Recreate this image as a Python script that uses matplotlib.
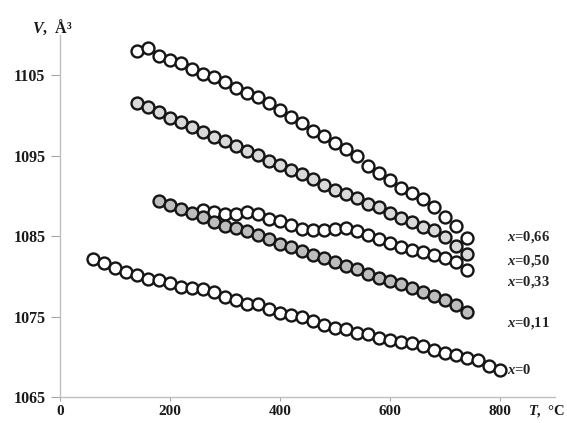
import matplotlib
matplotlib.use("Agg")
import matplotlib.pyplot as plt
import numpy as np

plt.rcParams['font.family'] = ['Liberation Serif', 'DejaVu Serif']
plt.rcParams['font.weight'] = 'bold'
plt.rcParams['mathtext.fontset'] = 'custom'
plt.rcParams['mathtext.it'] = 'Liberation Serif:italic:bold'
plt.rcParams['mathtext.rm'] = 'Liberation Serif:bold'
plt.rcParams['mathtext.bf'] = 'Liberation Serif:bold'

# Temperatures, degrees C
T_x0 = list(range(60, 801, 20))
T_x066 = list(range(140, 741, 20))
T_x050 = list(range(140, 741, 20))
T_x033 = list(range(260, 741, 20))
T_x011 = list(range(180, 741, 20))

# Unit-cell volume, cubic angstrom
V_x0 = [1082.2, 1081.7, 1081.0, 1080.5, 1080.2, 1079.7, 1079.5, 1079.2, 1078.7,
        1078.5, 1078.4, 1078.0, 1077.4, 1077.0, 1076.6, 1076.5, 1075.9, 1075.4,
        1075.2, 1074.9, 1074.4, 1074.0, 1073.6, 1073.4, 1073.0, 1072.8, 1072.3,
        1072.1, 1071.8, 1071.7, 1071.4, 1070.9, 1070.5, 1070.2, 1069.8, 1069.6,
        1068.8, 1068.4]
V_x066 = [1108.0, 1108.4, 1107.4, 1106.9, 1106.5, 1105.8, 1105.2, 1104.8, 1104.2,
          1103.4, 1102.8, 1102.3, 1101.6, 1100.7, 1099.8, 1099.0, 1098.1, 1097.4,
          1096.6, 1095.8, 1095.0, 1093.7, 1092.9, 1092.0, 1091.0, 1090.4, 1089.6,
          1088.6, 1087.4, 1086.2, 1084.8]
V_x050 = [1101.6, 1101.0, 1100.4, 1099.7, 1099.2, 1098.6, 1097.9, 1097.3, 1096.8,
          1096.2, 1095.6, 1095.1, 1094.3, 1093.8, 1093.2, 1092.7, 1092.1, 1091.3,
          1090.7, 1090.2, 1089.7, 1089.0, 1088.6, 1087.9, 1087.3, 1086.8, 1086.1,
          1085.7, 1084.9, 1083.8, 1082.8]
V_x033 = [1088.2, 1088.0, 1087.7, 1087.8, 1088.0, 1087.8, 1087.1, 1086.9, 1086.4,
          1085.9, 1085.8, 1085.7, 1085.9, 1086.0, 1085.6, 1085.1, 1084.7, 1084.1,
          1083.6, 1083.3, 1083.0, 1082.7, 1082.3, 1081.8, 1080.8]
V_x011 = [1089.4, 1088.9, 1088.4, 1087.9, 1087.4, 1086.8, 1086.3, 1086.0, 1085.6,
          1085.1, 1084.7, 1084.0, 1083.6, 1083.1, 1082.7, 1082.3, 1081.8, 1081.3,
          1080.9, 1080.3, 1079.8, 1079.4, 1079.1, 1078.6, 1078.0, 1077.6, 1077.1,
          1076.4, 1075.6]

series_labels = ["$x$=0", "$x$=0,66", "$x$=0,50", "$x$=0,33", "$x$=0,11"]
label_V = [1068.3, 1084.85, 1081.95, 1079.3, 1074.15]
label_T = [813, 813, 813, 813, 813]

x_ticks = [0, 200, 400, 600, 800]
y_ticks = [1065, 1075, 1085, 1095, 1105]

fig = plt.figure(figsize=(5.67, 4.23), dpi=100)
ax = fig.add_axes([60 / 567, 26 / 423, 495 / 567, 362 / 423])

edge = '#151515'
styles = [
    (T_x0, V_x0, 'white'),
    (T_x066, V_x066, 'white'),
    (T_x050, V_x050, '#d9d9d9'),
    (T_x033, V_x033, 'white'),
    (T_x011, V_x011, '#bdbdbd'),
]
for T, V, fc in styles:
    ax.plot(T, V, linestyle='none', marker='o', markersize=8.6,
            markerfacecolor=fc, markeredgecolor=edge, markeredgewidth=1.7,
            clip_on=False)

for txt, tx, vy in zip(series_labels, label_T, label_V):
    ax.text(tx, vy, txt, fontsize=10.5, fontweight='bold', ha='left',
            va='center', color='#222222')

ax.set_xlim(0, 900)
ax.set_ylim(1065, 1110)
ax.set_xticks(x_ticks)
ax.set_yticks(y_ticks)
ax.set_xticklabels([str(v) for v in x_ticks])
ax.set_yticklabels([str(v) for v in y_ticks])

for side in ('top', 'right'):
    ax.spines[side].set_visible(False)
for side in ('left', 'bottom'):
    ax.spines[side].set_color('#bfbfbf')
    ax.spines[side].set_linewidth(1.0)

ax.tick_params(axis='y', direction='out', length=6.5, width=0.8,
               color='#a6a6a6', pad=4, labelsize=11.5)
ax.tick_params(axis='x', direction='out', length=3, width=0.8,
               color='#a6a6a6', pad=3, labelsize=11)
for lab in ax.get_xticklabels() + ax.get_yticklabels():
    lab.set_fontweight('bold')
    lab.set_color('#1a1a1a')

fig.text(32 / 567, 1 - 33 / 423, "$V$,  Å³", fontsize=11.5, fontweight='bold',
         ha='left', va='baseline', color='#1a1a1a')
fig.text(528 / 567, 1 - 415 / 423, "$T$,  °C", fontsize=10.5, fontweight='bold',
         ha='left', va='baseline', color='#1a1a1a')

fig.savefig('out.png', dpi=100, facecolor='white')
